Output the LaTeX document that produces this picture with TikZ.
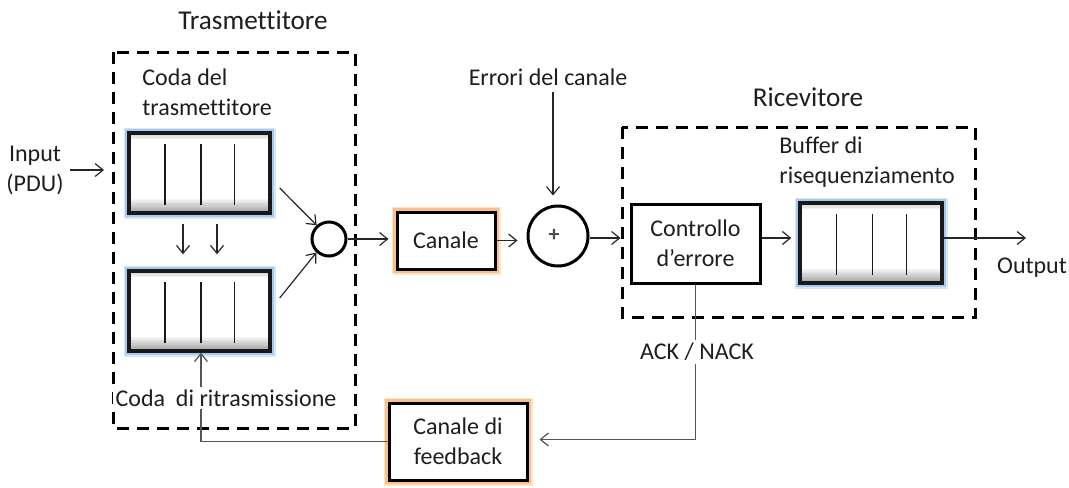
\documentclass[tikz,border=0pt]{standalone}
\usepackage{fontspec}
\setmainfont{Carlito}[Ligatures=NoCommon]
\usetikzlibrary{arrows.meta,calc}
\definecolor{glowblue}{HTML}{A9C8EE}
\definecolor{gloworange}{HTML}{F8C08A}
\definecolor{txt}{HTML}{1E1E1E}
\definecolor{fbline}{HTML}{555555}
\tikzset{
  body/.style={font=\fontsize{12}{15}\selectfont, text=txt, inner sep=0pt},
  title/.style={font=\fontsize{13.6}{16}\selectfont, text=txt, inner sep=0pt},
  conn/.style={line width=0.6pt, draw=black!85, -{Straight Barb[length=4pt,width=6.5pt]}},
  gconn/.style={line width=0.6pt, draw=fbline},
  dashbox/.style={draw=black, line width=1.5pt, dash pattern=on 6pt off 4pt},
  queuebox/.style={draw=black!90, line width=1.7pt, fill=white, inner sep=0pt,
    minimum width=70.5pt, minimum height=40pt,
    preaction={draw=glowblue!45, line width=5.5pt},
    preaction={draw=glowblue, line width=3.8pt},
    path picture={
      \foreach \i in {0,...,9}{
        \fill[black!\the\numexpr 4*\i\relax]
          ([yshift={(10-\i)*0.8pt}]path picture bounding box.south west)
          rectangle ([yshift={(9-\i)*0.8pt}]path picture bounding box.south east);}
      \foreach \i in {0,...,3}{
        \fill[black!\the\numexpr 20-5*\i\relax]
          ([yshift={-\i*0.8pt}]path picture bounding box.north west)
          rectangle ([yshift={-(\i+1)*0.8pt}]path picture bounding box.north east);}
      \foreach \f in {0.255,0.51,0.75}{
        \draw[line width=0.6pt] ($(path picture bounding box.south west)!\f!(path picture bounding box.south east)+(0,4pt)$)
          -- ($(path picture bounding box.north west)!\f!(path picture bounding box.north east)+(0,-5.5pt)$);}
    }},
  chanbox/.style={draw=black, line width=1.5pt, fill=white, body, align=center,
    preaction={draw=gloworange!45, line width=5.5pt},
    preaction={draw=gloworange, line width=3.8pt}},
  plainbox/.style={draw=black, line width=1.5pt, fill=white, body, align=center},
  ring/.style={circle, draw=black, line width=1.5pt, inner sep=0pt},
}
\begin{document}
\begin{tikzpicture}[x=0.5pt, y=-0.5pt]
\useasboundingbox[fill=white] (0,0) rectangle (1069,487);

% dashed frames
\draw[dashbox] (113,52) rectangle (355,428);
\draw[dashbox] (622,127) rectangle (975,317);

% titles
\node[title] (ttx) at (253,20) {Trasmettitore};
\node[title] (trx) at (808,97) {Ricevitore};

% transmitter
\node[body, anchor=west, align=left] (lq1) at (142,92) {Coda del\\trasmettitore};
\node[queuebox] (q1) at (199.5,173) {};
\node[queuebox] (q2) at (199.5,311) {};
\node[ring, minimum size=17pt] (c1) at (329,239) {};
\node[body, align=center] (inp) at (35,170) {Input\\(PDU)};
\coordinate (inTip) at (104,170);

% channel
\node[chanbox, minimum width=49pt, minimum height=28.5pt] (can) at (446,240.5) {Canale};
\node[ring, minimum size=30pt] (c2) at (558,236) {};
\node[font=\fontsize{11}{12}\selectfont\bfseries, text=black!70, inner sep=0pt] (plus) at (554,235) {+};
\node[body] (err) at (548,77) {Errori del canale};

% receiver
\node[plainbox, minimum width=64.5pt, minimum height=39.5pt] (ctrl) at (695.5,243.5) {Controllo\\d’errore};
\node[body, anchor=west, align=left] (lq3) at (779,162) {Buffer di\\risequenziamento};
\node[queuebox, minimum width=71pt] (q3) at (871,243) {};
\node[body] (out) at (1032,268) {Output};
\coordinate (outTip) at (1026,238);

% feedback
\node[chanbox, minimum width=69pt, minimum height=38.5pt] (fb) at (458,441.5) {Canale di\\feedback};

% connectors
\draw[conn] (inp.east) ++(3pt,0) -- (inTip);
\draw[conn] ([xshift=4pt,yshift=-7.5pt]q1.east) -- (c1.132);
\draw[conn] ([xshift=4pt,yshift=6.5pt]q2.east) -- (c1.227);
\draw[conn] ([xshift=-8.25pt,yshift=-4.5pt]q1.south) -- ([xshift=-8.25pt,yshift=7.5pt]q2.north);
\draw[conn] ([xshift=8.75pt,yshift=-4.5pt]q1.south) -- ([xshift=8.75pt,yshift=7.5pt]q2.north);
\draw[conn, shorten >=3.5pt] (c1.east) -- (c1.east -| can.west);
\draw[conn, shorten >=4.5pt] (can.east) -- (can.east -| c2.west);
\draw[conn, shorten >=4.5pt] ([xshift=2.5pt]err.south) ++(0,-3pt) -- ([xshift=2.5pt]err.south |- c2.north);
\draw[conn, shorten >=4.5pt] ([yshift=-1pt]c2.east) -- ([yshift=-1pt]c2.east -| ctrl.west);
\draw[conn, shorten >=3.5pt] ([yshift=2.75pt]ctrl.east) -- ([yshift=2.75pt]ctrl.east -| q3.west);
\draw[conn] ([yshift=2.5pt]q3.east) -- (outTip);
\draw[gconn, -{Straight Barb[length=4pt,width=6.5pt]}, shorten >=5.5pt] (ctrl.south) |- ([yshift=1pt]fb.east);
\draw[gconn, -{Straight Barb[length=4pt,width=6.5pt]}] (fb.west) -| ([xshift=0.75pt]q2.south);

% labels over lines
\node[body, fill=white, inner sep=1.5pt] (ack) at (697,352) {ACK / NACK};
\node[body, fill=white, inner sep=1.5pt] (lq2) at (226,398) {Coda\ \ di ritrasmissione};
\end{tikzpicture}
\end{document}
